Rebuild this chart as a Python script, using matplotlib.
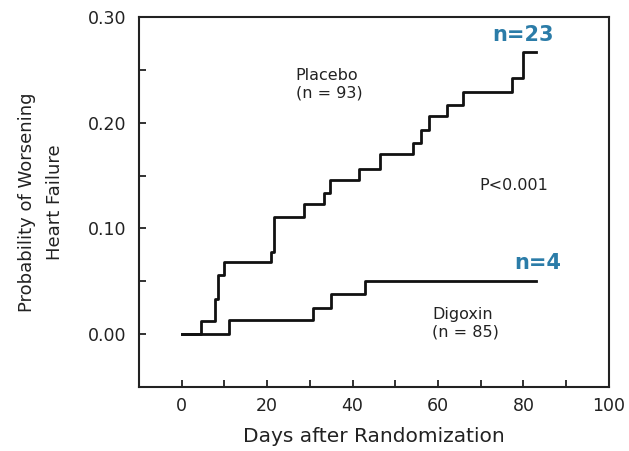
import matplotlib
matplotlib.use('Agg')
import matplotlib.pyplot as plt
from matplotlib.ticker import MultipleLocator

# Kaplan-Meier style curves
placebo_days = [0, 4.4, 7.7, 8.6, 9.8, 20.9, 21.6, 28.6, 33.3, 34.7, 41.6,
                46.5, 54.2, 56.0, 58.0, 62.0, 65.8, 77.4, 79.8, 83.0]
placebo_prob = [0.0, 0.012, 0.033, 0.056, 0.068, 0.078, 0.111, 0.123, 0.134,
                0.146, 0.156, 0.170, 0.181, 0.193, 0.206, 0.217, 0.229, 0.242,
                0.267, 0.267]

digoxin_days = [0, 11.0, 30.7, 34.9, 43.0, 83.0]
digoxin_prob = [0.0, 0.013, 0.025, 0.038, 0.050, 0.050]

x_ticks = [0, 20, 40, 60, 80, 100]
y_ticks = [0.00, 0.10, 0.20, 0.30]

blue = '#2b7ca8'

fig = plt.figure(figsize=(6.29, 4.51), dpi=100)
ax = fig.add_axes([0.221, 0.142, 0.747, 0.820])

ax.step(placebo_days, placebo_prob, where='post', color='#111111', lw=2.0)
ax.step(digoxin_days, digoxin_prob, where='post', color='#111111', lw=2.0)

ax.set_xlim(-10, 100)
ax.set_ylim(-0.05, 0.30)
ax.set_xticks(x_ticks)
ax.set_yticks(y_ticks)
ax.set_yticklabels(['%.2f' % v for v in y_ticks])
ax.xaxis.set_minor_locator(MultipleLocator(10))
ax.yaxis.set_minor_locator(MultipleLocator(0.05))
ax.tick_params(which='both', direction='in', top=False, right=False,
               labelsize=12.5, colors='#222222', width=1.3)
ax.tick_params(axis='x', which='major', length=5, pad=7)
ax.tick_params(axis='y', which='major', length=5, pad=9)
ax.tick_params(which='minor', length=5)
for s in ax.spines.values():
    s.set_linewidth(1.5)
    s.set_color('#222222')

ax.set_xlabel('Days after Randomization', fontsize=14.5, color='#222222', labelpad=9)
ax.set_ylabel('Probability of Worsening\nHeart Failure', fontsize=13,
              color='#222222', labelpad=17, linespacing=1.75)

ax.text(26.7, 0.252, 'Placebo\n(n = 93)', fontsize=11.5, va='top', ha='left',
        color='#222222')
ax.text(69.8, 0.141, 'P<0.001', fontsize=11.5, va='center', ha='left',
        color='#222222')
ax.text(58.6, 0.026, 'Digoxin\n(n = 85)', fontsize=11.5, va='top', ha='left',
        color='#222222')
ax.text(72.6, 0.2835, 'n=23', fontsize=15, fontweight='bold', color=blue,
        va='center', ha='left')
ax.text(77.9, 0.067, 'n=4', fontsize=15, fontweight='bold', color=blue,
        va='center', ha='left')

fig.savefig('out.png', dpi=100)
